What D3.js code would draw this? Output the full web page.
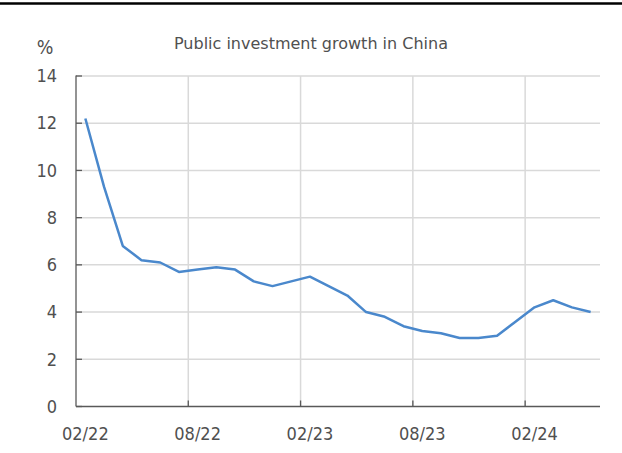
<!DOCTYPE html>
<html><head><meta charset="utf-8">
<script src="https://cdn.jsdelivr.net/npm/d3@7"></script>
<style>body{margin:0;background:#fff}</style>
</head><body>
<svg id="c" width="622" height="453"></svg>
<script>
const months = ["02/22","03/22","04/22","05/22","06/22","07/22","08/22","09/22","10/22","11/22","12/22","01/23",
"02/23","03/23","04/23","05/23","06/23","07/23","08/23","09/23","10/23","11/23","12/23","01/24",
"02/24","03/24","04/24","05/24"];
const values = [12.2,9.3,6.8,6.2,6.1,5.7,5.8,5.9,5.8,5.3,5.1,5.3,
5.5,5.1,4.7,4.0,3.8,3.4,3.2,3.1,2.9,2.9,3.0,3.6,
4.2,4.5,4.2,4.0];
const xTickLabels = ["02/22","08/22","02/23","08/23","02/24"];
const yTicks = [0,2,4,6,8,10,12,14];
const title = "Public investment growth in China";
const unit = "%";

const svg = d3.select("#c");
const L=76, R=600, T=76, B=406.5;
const x = d3.scaleBand().domain(months).range([L,R]).padding(0);
const y = d3.scaleLinear().domain([0,14]).range([B,T]);
const font = "'DejaVu Sans', Verdana, sans-serif";
const fontC = "'DejaVu Sans Condensed', 'DejaVu Sans', sans-serif";
const txt = "#505050";

svg.append("line").attr("x1",0).attr("x2",622).attr("y1",3.5).attr("y2",3.5)
  .attr("stroke","#000").attr("stroke-width",2.5);

svg.append("text").attr("x",311).attr("y",49).attr("text-anchor","middle")
  .attr("font-family",font).attr("font-size",16).attr("fill",txt).text(title);
svg.append("text").attr("x",45).attr("y",54).attr("text-anchor","middle")
  .attr("font-family",fontC).attr("font-size",19.5).attr("fill",txt).text(unit);

// horizontal gridlines
svg.append("g").selectAll("line").data(yTicks.filter(d=>d>0)).join("line")
  .attr("x1",L).attr("x2",R).attr("y1",d=>y(d)).attr("y2",d=>y(d))
  .attr("stroke","#d9d9d9").attr("stroke-width",1.5);
// vertical gridlines at category boundaries
const xt = xTickLabels.slice(1);
svg.append("g").selectAll("line").data(xt).join("line")
  .attr("x1",d=>x(d)).attr("x2",d=>x(d)).attr("y1",T).attr("y2",B)
  .attr("stroke","#d9d9d9").attr("stroke-width",1.5);

// y axis
const yAxis = d3.axisLeft(y).tickValues(yTicks).tickSize(0).tickPadding(19);
const gy = svg.append("g").attr("transform",`translate(${L},0)`).call(yAxis);
gy.select(".domain").remove();
gy.selectAll("text").attr("font-family",fontC).attr("font-size",18).attr("fill",txt);
svg.append("g").selectAll("line").data(yTicks).join("line")
  .attr("x1",L).attr("x2",L+6).attr("y1",d=>y(d)).attr("y2",d=>y(d))
  .attr("stroke","#595959").attr("stroke-width",1.3);
svg.append("line").attr("x1",L).attr("x2",L).attr("y1",T-0.5).attr("y2",B)
  .attr("stroke","#595959").attr("stroke-width",1.3);

// x axis
svg.append("line").attr("x1",L).attr("x2",R).attr("y1",B).attr("y2",B)
  .attr("stroke","#595959").attr("stroke-width",1.3);
svg.append("g").selectAll("line").data(xt).join("line")
  .attr("x1",d=>x(d)).attr("x2",d=>x(d)).attr("y1",B).attr("y2",B-6)
  .attr("stroke","#595959").attr("stroke-width",1.3);
svg.append("g").selectAll("text").data(xTickLabels).join("text")
  .attr("x",d=>x(d)+x.bandwidth()/2).attr("y",B+33.5).attr("text-anchor","middle")
  .attr("font-family",fontC).attr("font-size",18).attr("fill",txt).text(d=>d);

// line
const line = d3.line().x((d,i)=>x(months[i])+x.bandwidth()/2).y(d=>y(d));
svg.append("path").datum(values).attr("d",line).attr("fill","none")
  .attr("stroke","#4a88cc").attr("stroke-width",2.5).attr("stroke-linejoin","round");
</script>
</body></html>
